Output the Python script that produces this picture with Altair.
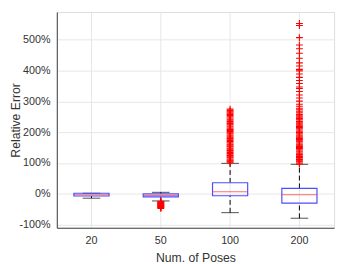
import altair as alt
import pandas as pd

# ---- data (values in percent) ----
categories = ["20", "50", "100", "200"]
q1 = [-7, -10, -6, -30]
median = [-3, -5, 7, -3]
q3 = [2, 0, 36, 18]
whisk_lo = [-14, -23, -61, -79]
whisk_hi = [2, 5, 99, 96]

outliers_20 = []
outliers_50 = [-24, -26, -27, -29, -30, -32, -33, -35, -36, -38, -39, -41, -42, -44, -45, -47]
outliers_100 = [101, 104, 107, 110, 113, 117, 120, 124, 127, 131, 134, 138, 141, 145, 148,
                152, 155, 159, 162, 166, 170, 173, 177, 180, 184, 188, 191, 195, 198, 202,
                206, 209, 213, 217, 220, 224, 228, 231, 235, 239, 242, 246, 250, 254, 258,
                262, 266, 270, 275]
outliers_200 = [97, 100, 104, 107, 111, 114, 118, 121, 125, 128, 132, 136, 139, 143, 147,
                150, 154, 158, 161, 165, 169, 172, 176, 180, 184, 188, 191, 195, 199, 203,
                207, 211, 215, 219, 223, 227, 231, 235, 240, 244, 249, 253, 258, 263, 268,
                273, 278, 284, 291, 301, 311, 321, 332, 342, 347, 358, 368, 378, 389, 399,
                404, 415, 425, 440, 456, 471, 483, 507, 546, 553]

box_df = pd.DataFrame({
    "cat": categories, "q1": q1, "median": median, "q3": q3,
    "lo": whisk_lo, "hi": whisk_hi,
})

out_rows = []
for c, vals in zip(categories, [outliers_20, outliers_50, outliers_100, outliers_200]):
    for v in vals:
        out_rows.append({"cat": c, "val": v})
out_df = pd.DataFrame(out_rows)

FONT = "Liberation Sans"
TXT = "#333333"

x_axis = alt.Axis(title="Num. of Poses", labelAngle=0, grid=True,
                  gridColor="#e6e6e6", domainColor="#404040",
                  tickSize=0, labelPadding=7, titlePadding=7,
                  labelFontSize=11, titleFontSize=12.5,
                  labelColor=TXT, titleColor=TXT, titleFontWeight="normal",
                  labelFontWeight="normal",
                  labelFont=FONT, titleFont=FONT)
xscale = alt.Scale(paddingInner=0, paddingOuter=0)

def X():
    return alt.X("cat:N", sort=categories, scale=xscale, axis=x_axis)

yscale = alt.Scale(domain=[-110, 590], nice=False, zero=False)
y_axis = alt.Axis(title="Relative Error", values=[-100, 0, 100, 200, 300, 400, 500],
                  labelExpr="datum.value + '%'", grid=True, gridColor="#e6e6e6",
                  domainColor="#404040", tickSize=0, labelPadding=7,
                  labelFontSize=11, titleFontSize=12.5, labelColor=TXT, titleColor=TXT,
                  titleFontWeight="normal", labelFontWeight="normal",
                  labelFont=FONT, titleFont=FONT, titleX=-35, labelOverlap=False)

def Y(field):
    return alt.Y(field, scale=yscale, axis=y_axis)

base = alt.Chart(box_df)

wh_up = base.mark_rule(color="black", strokeDash=[5, 3], strokeWidth=1).encode(
    x=X(), y=Y("q3:Q"), y2="hi:Q")
wh_dn = base.mark_rule(color="black", strokeDash=[5, 3], strokeWidth=1).encode(
    x=X(), y=Y("lo:Q"), y2="q1:Q")
cap_hi = base.mark_tick(color="black", size=18, thickness=1).encode(
    x=X(), y=Y("hi:Q"))
cap_lo = base.mark_tick(color="black", size=18, thickness=1).encode(
    x=X(), y=Y("lo:Q"))
box = base.mark_bar(size=36, fill="white", fillOpacity=0, stroke="#4d4dff",
                    strokeWidth=1.2).encode(
    x=X(), y=Y("q1:Q"), y2="q3:Q")
med = base.mark_tick(color="#ff3030", size=36, thickness=1).encode(
    x=X(), y=Y("median:Q"))

outs = alt.Chart(out_df).mark_point(
    shape="M-1,0L1,0M0,-1L0,1", size=49, filled=False, color="red",
    strokeWidth=1.1, opacity=1).encode(
    x=X(), y=Y("val:Q"))

chart = alt.layer(wh_up, wh_dn, cap_hi, cap_lo, box, med, outs).properties(
    width=284, height=221,
    autosize=alt.AutoSizeParams(type="none"),
    padding={"left": 50, "top": 1, "right": 3, "bottom": 34},
).configure_view(stroke="#404040", strokeWidth=1).configure(background="white")

chart.save("out.html", embed_options={"renderer": "svg", "actions": False})
